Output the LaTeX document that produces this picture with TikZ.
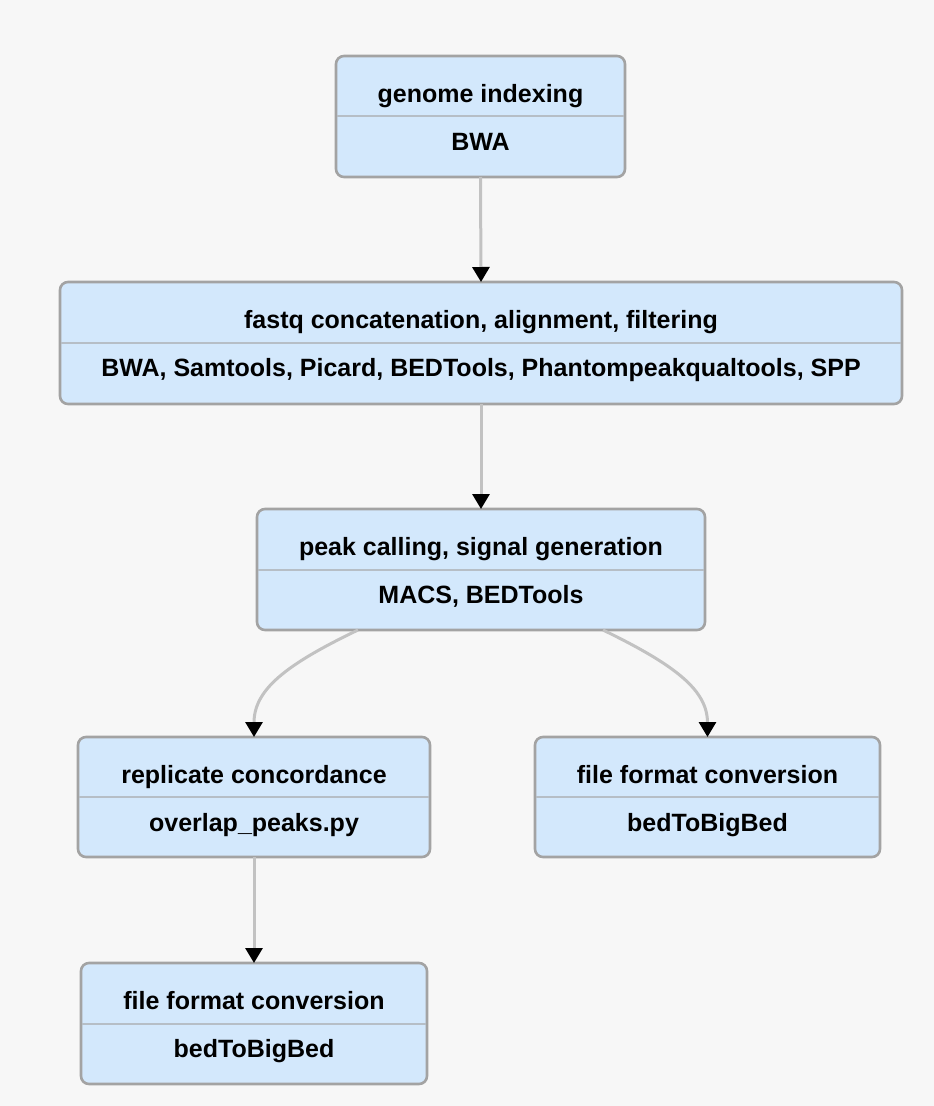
\documentclass[tikz,border=0pt]{standalone}
\usepackage{fontspec}
\setmainfont{Liberation Sans}
\usetikzlibrary{arrows.meta}
\definecolor{bgc}{HTML}{F7F7F7}
\definecolor{boxfill}{HTML}{D3E8FC}
\definecolor{boxline}{HTML}{A3A3A3}
\definecolor{divline}{HTML}{B6BEC6}
\definecolor{conn}{HTML}{C2C2C2}
\tikzset{
  stepbox/.style={draw=boxline, fill=boxfill, line width=2.6pt, rounded corners=8pt,
    inner sep=0pt, outer sep=0pt},
  lbl/.style={font=\bfseries\fontsize{25}{29}\selectfont, anchor=base, inner sep=0pt},
  divider/.style={draw=divline, line width=2pt},
  conn/.style={draw=conn, line width=3pt,
    -{Triangle[width=17pt,length=15pt,color=black]}}
}
\newcommand{\stepnode}[8]{% name, cx, top, w, h, title, tools, divider offset
  \node[stepbox, minimum width=#4pt, minimum height=#5pt, anchor=north] (#1) at (#2,#3) {};
  \draw[divider] ([xshift=1.3pt,yshift=-#8pt]#1.north west) -- ([xshift=-1.3pt,yshift=-#8pt]#1.north east);
  \node[lbl] (#1t) at ([yshift=-46pt]#1.north) {#6};
  \node[lbl] (#1s) at ([yshift=-94pt]#1.north) {#7};
}
\begin{document}
\begin{tikzpicture}[x=1pt,y=-1pt]
  \fill[bgc] (0,0) rectangle (934,1106);
  \useasboundingbox (0,0) rectangle (934,1106);
  \stepnode{b1}{480.5}{56}{289}{121}{genome indexing}{BWA}{60}
  \stepnode{b2}{481}{282}{842}{122}{fastq concatenation, alignment, filtering}{BWA, Samtools, Picard, BEDTools, Phantompeakqualtools, SPP}{61}
  \stepnode{b3}{481}{509}{448}{121}{peak calling, signal generation}{MACS, BEDTools}{61}
  \stepnode{b4}{254}{737}{352}{120}{replicate concordance}{overlap\_peaks.py}{60}
  \stepnode{b5}{707.5}{737}{345}{120}{file format conversion}{bedToBigBed}{60}
  \stepnode{b6}{254}{963}{346}{121}{file format conversion}{bedToBigBed}{61}
  \draw[conn] (b1.south) -- (b2.north);
  \draw[conn] (b2.south) -- (b3.north);
  \draw[conn] ([xshift=-123pt]b3.south) .. controls (285,665) and (254,690) .. (b4.north);
  \draw[conn] ([xshift=122pt]b3.south) .. controls (675,665) and (707.5,690) .. (b5.north);
  \draw[conn] (b4.south) -- (b6.north);
\end{tikzpicture}
\end{document}
